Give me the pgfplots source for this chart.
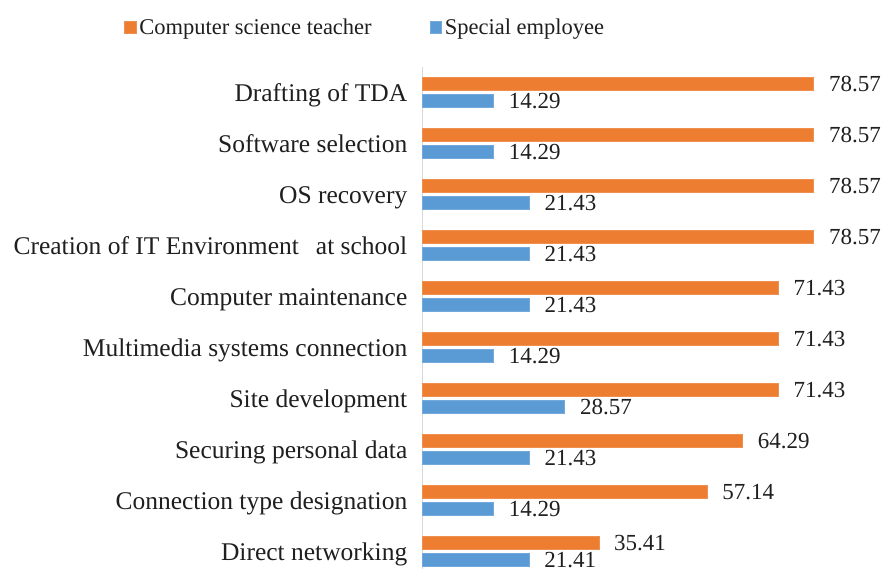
\documentclass[border=0pt]{standalone}
\usepackage{pgfplots}
\pgfplotsset{compat=1.18}
\usepackage{fontspec}
\setmainfont{Liberation Serif}
\definecolor{cOrange}{RGB}{237,125,49}
\definecolor{cBlue}{RGB}{91,155,213}
\definecolor{cAxis}{RGB}{217,217,217}
\begin{document}
\begin{tikzpicture}
\begin{axis}[
  at={(422.5pt,-67.3pt)}, anchor=north west,
  scale only axis,
  width=398.4pt, height=510pt,
  xmin=0, xmax=80, ymin=-0.5, ymax=9.5,
  enlargelimits=false,
  clip=false,
  xbar,
  point meta=x,
  axis x line=none,
  axis y line*=left,
  y axis line style={draw=cAxis, line width=1.2pt},
  ytick={0,1,2,3,4,5,6,7,8,9},
  yticklabels={Direct networking,Connection type designation,Securing personal data,Site development,Multimedia systems connection,Computer maintenance,Creation of IT Environment\ \ \,at school,OS recovery,Software selection,Drafting of TDA},
  major tick length=0pt,
  ytick style={draw=none},
  yticklabel style={font=\fontsize{25.5}{30}\selectfont, anchor=base east, inner sep=0pt, xshift=-15pt, yshift=-8.8pt, text=black!88},
  nodes near coords={\pgfmathprintnumber[fixed,fixed zerofill,precision=2,assume math mode=true]{\pgfplotspointmeta}},
  every node near coord/.append style={font=\fontsize{23}{28}\selectfont, anchor=west, inner sep=0pt, xshift=15pt, text=black!88},
  legend columns=2,
  legend style={at={(axis description cs:-0.7492,1.078)}, anchor=west, draw=none, fill=none, inner sep=0pt,
    font=\fontsize{22.5}{27}\selectfont, text=black!88, column sep=3pt,
    nodes={inner sep=0pt}},
  legend cell align=left,
  /tikz/every even column/.append style={column sep=58pt},
  legend image code/.code={\fill[#1] (0pt,-5.75pt) rectangle (11.5pt,5.75pt);},
]
\addplot[fill=cOrange, draw=cOrange!85!white, line width=0.6pt, bar width=13pt, bar shift=8.5pt]
  coordinates {(35.41,0) (57.14,1) (64.29,2) (71.43,3) (71.43,4) (71.43,5) (78.57,6) (78.57,7) (78.57,8) (78.57,9)};
\addlegendentry{Computer science teacher}
\addplot[fill=cBlue, draw=cBlue!85!white, line width=0.6pt, bar width=13pt, bar shift=-8.5pt]
  coordinates {(21.41,0) (14.29,1) (21.43,2) (28.57,3) (14.29,4) (21.43,5) (21.43,6) (21.43,7) (14.29,8) (14.29,9)};
\addlegendentry{Special employee}
\end{axis}
\pgfresetboundingbox
\useasboundingbox (0,0) rectangle (884pt,-569pt);
\end{tikzpicture}
\end{document}
